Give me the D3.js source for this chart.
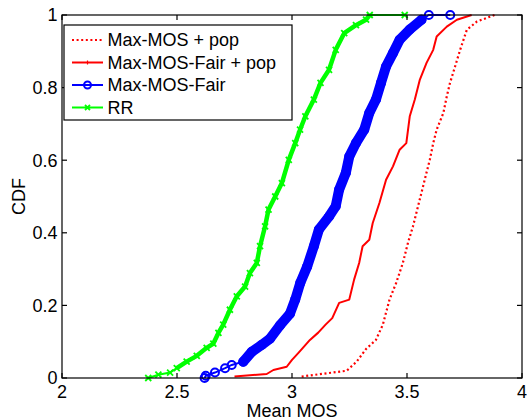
<!DOCTYPE html>
<html>
<head>
<meta charset="utf-8">
<script src="https://cdn.jsdelivr.net/npm/d3@7"></script>
<style>
  html, body { margin: 0; padding: 0; background: #fff; }
  svg { display: block; font-family: "Liberation Sans", Arial, Helvetica, sans-serif; }
</style>
</head>
<body>
<svg id="chart" width="527" height="420"></svg>
<script>
// Empirical CDF samples: [mean MOS, cumulative fraction]
const maxMosPop = [
  [3.042,0.004],[3.151,0.013],[3.238,0.02],[3.281,0.045],[3.322,0.08],[3.365,0.105],
  [3.395,0.147],[3.424,0.216],[3.453,0.262],[3.482,0.317],[3.504,0.372],[3.526,0.418],
  [3.548,0.473],[3.577,0.546],[3.599,0.601],[3.614,0.647],[3.629,0.684],[3.658,0.73],
  [3.673,0.776],[3.687,0.813],[3.709,0.858],[3.731,0.904],[3.76,0.959],[3.804,0.982],
  [3.881,1.0]
];
const maxMosFairPop = [
  [2.75,0.004],[2.89,0.011],[2.919,0.022],[2.977,0.031],[3.0,0.05],[3.029,0.07],
  [3.078,0.105],[3.114,0.125],[3.146,0.147],[3.175,0.165],[3.205,0.207],[3.249,0.216],
  [3.27,0.271],[3.292,0.317],[3.307,0.363],[3.336,0.381],[3.351,0.427],[3.38,0.482],
  [3.409,0.546],[3.439,0.583],[3.468,0.629],[3.497,0.647],[3.512,0.721],[3.534,0.767],
  [3.556,0.822],[3.585,0.868],[3.614,0.904],[3.629,0.941],[3.673,0.968],[3.717,0.987],
  [3.781,1.0]
];
const maxMosFair = [
  [2.62,0],[2.625,0.006],[2.665,0.015],[2.709,0.027],[2.738,0.036],[2.788,0.045],
  [2.825,0.072],[2.868,0.091],[2.904,0.108],[2.948,0.145],[2.991,0.177],[3.014,0.216],
  [3.036,0.262],[3.066,0.307],[3.095,0.363],[3.117,0.409],[3.161,0.445],[3.19,0.473],
  [3.205,0.519],[3.234,0.565],[3.249,0.61],[3.278,0.647],[3.314,0.684],[3.336,0.73],
  [3.365,0.767],[3.387,0.813],[3.409,0.858],[3.439,0.895],[3.468,0.932],[3.512,0.96],
  [3.563,0.987],[3.595,1.0],[3.688,1.0]
];
const rr = [
  [2.375,0],[2.419,0.009],[2.47,0.015],[2.499,0.027],[2.542,0.045],[2.586,0.061],
  [2.629,0.083],[2.658,0.095],[2.68,0.124],[2.701,0.147],[2.73,0.188],[2.76,0.225],
  [2.796,0.252],[2.817,0.289],[2.847,0.317],[2.861,0.363],[2.883,0.418],[2.898,0.464],
  [2.927,0.5],[2.956,0.537],[2.986,0.601],[3.014,0.647],[3.035,0.684],[3.058,0.721],
  [3.095,0.767],[3.124,0.813],[3.161,0.849],[3.19,0.904],[3.227,0.95],[3.278,0.972],
  [3.322,0.987],[3.338,1.0],[3.49,1.0]
];

const legendLabels = ["Max-MOS + pop", "Max-MOS-Fair + pop", "Max-MOS-Fair", "RR"];
const xTicks = [2, 2.5, 3, 3.5, 4];
const yTicks = [0, 0.2, 0.4, 0.6, 0.8, 1];
const xLabel = "Mean MOS";
const yLabel = "CDF";

const RED = "#ff0000", BLUE = "#0000ff", GREEN = "#00ff00";

const svg = d3.select("#chart");
const L = 62, R = 522, T = 15, B = 378;

const x = d3.scaleLinear().domain([2, 4]).range([L, R]);
const y = d3.scaleLinear().domain([0, 1]).range([B, T]);

const fmt = d => (d === 0 || d === 1 || d === 2 || d === 3 || d === 4) ? String(d) : String(d);

// clip region for the data
svg.append("clipPath").attr("id", "plotclip")
  .append("rect").attr("x", L).attr("y", T - 6).attr("width", R - L + 6).attr("height", B - T + 12);

const plot = svg.append("g").attr("clip-path", "url(#plotclip)");
const line = d3.line().x(d => x(d[0])).y(d => y(d[1]));

// Max-MOS + pop : dotted red
plot.append("path").datum(maxMosPop)
  .attr("d", line).attr("fill", "none").attr("stroke", RED)
  .attr("stroke-width", 2.2).attr("stroke-dasharray", "2,2.6");

// Max-MOS-Fair + pop : solid red
plot.append("path").datum(maxMosFairPop)
  .attr("d", line).attr("fill", "none").attr("stroke", RED)
  .attr("stroke-width", 2).attr("stroke-linejoin", "round");

// Max-MOS-Fair : blue with circle markers (dense markers form a thick trail)
plot.append("path").datum(maxMosFair)
  .attr("d", line).attr("fill", "none").attr("stroke", BLUE).attr("stroke-width", 2);
plot.append("path").datum(maxMosFair.filter(d => d[1] >= 0.04 && d[1] < 0.99))
  .attr("d", line).attr("fill", "none").attr("stroke", BLUE)
  .attr("stroke-width", 10).attr("stroke-linejoin", "round").attr("stroke-linecap", "round");
plot.append("g").selectAll("circle").data(maxMosFair).join("circle")
  .attr("cx", d => x(d[0])).attr("cy", d => y(d[1])).attr("r", 4)
  .attr("fill", "none").attr("stroke", BLUE).attr("stroke-width", 2);

// RR : green with x markers
plot.append("path").datum(rr)
  .attr("d", line).attr("fill", "none").attr("stroke", GREEN).attr("stroke-width", 2);
plot.append("path").datum(rr.filter(d => d[1] >= 0.02 && d[0] < 3.4))
  .attr("d", line).attr("fill", "none").attr("stroke", GREEN)
  .attr("stroke-width", 4.5).attr("stroke-linejoin", "round");
const xMark = s => `M${-s},${-s}L${s},${s}M${-s},${s}L${s},${-s}`;
plot.append("g").selectAll("path").data(rr).join("path")
  .attr("transform", d => `translate(${x(d[0])},${y(d[1])})`)
  .attr("d", xMark(3)).attr("stroke", GREEN).attr("stroke-width", 1.8).attr("fill", "none");

// axes box with inward ticks on all sides
const axisG = svg.append("g").attr("stroke", "#000").attr("stroke-width", 1.2).attr("fill", "none");
axisG.append("rect").attr("x", L).attr("y", T).attr("width", R - L).attr("height", B - T);
const tl = 5;
xTicks.forEach(t => {
  axisG.append("line").attr("x1", x(t)).attr("x2", x(t)).attr("y1", B).attr("y2", B - tl);
  axisG.append("line").attr("x1", x(t)).attr("x2", x(t)).attr("y1", T).attr("y2", T + tl);
});
yTicks.forEach(t => {
  axisG.append("line").attr("x1", L).attr("x2", L + tl).attr("y1", y(t)).attr("y2", y(t));
  axisG.append("line").attr("x1", R).attr("x2", R - tl).attr("y1", y(t)).attr("y2", y(t));
});

const fs = 18;
svg.append("g").selectAll("text").data(xTicks).join("text")
  .attr("x", d => x(d)).attr("y", 398).attr("text-anchor", "middle")
  .attr("font-size", fs).attr("fill", "#000").text(d => fmt(d));
svg.append("g").selectAll("text").data(yTicks).join("text")
  .attr("x", 57.5).attr("y", d => y(d)).attr("dy", "0.35em").attr("text-anchor", "end")
  .attr("font-size", fs).attr("fill", "#000").text(d => fmt(d));

svg.append("text").attr("x", (L + R) / 2).attr("y", 417).attr("text-anchor", "middle")
  .attr("font-size", fs).attr("fill", "#000").text(xLabel);
svg.append("text").attr("transform", `translate(25,${(T + B) / 2}) rotate(-90)`)
  .attr("text-anchor", "middle").attr("font-size", fs).attr("fill", "#000").text(yLabel);

// legend
const lg = svg.append("g");
lg.append("rect").attr("x", 64).attr("y", 25).attr("width", 228).attr("height", 95)
  .attr("fill", "#fff").attr("stroke", "#000").attr("stroke-width", 1.2);
const rowY = [40, 62.5, 85, 107.5];
const styles = [
  { color: RED, width: 2.2, dash: "2,2.6", marker: null },
  { color: RED, width: 2, dash: null, marker: "dot" },
  { color: BLUE, width: 2, dash: null, marker: "circle" },
  { color: GREEN, width: 2, dash: null, marker: "x" }
];
legendLabels.forEach((lab, i) => {
  const s = styles[i], yy = rowY[i];
  lg.append("line").attr("x1", 72).attr("x2", 103).attr("y1", yy).attr("y2", yy)
    .attr("stroke", s.color).attr("stroke-width", s.width)
    .attr("stroke-dasharray", s.dash);
  if (s.marker === "circle") {
    lg.append("circle").attr("cx", 87.5).attr("cy", yy).attr("r", 3.5)
      .attr("fill", "none").attr("stroke", s.color).attr("stroke-width", 2);
  } else if (s.marker === "x") {
    lg.append("path").attr("transform", `translate(87.5,${yy})`).attr("d", xMark(2.5))
      .attr("stroke", s.color).attr("stroke-width", 1.8);
  } else if (s.marker === "dot") {
    lg.append("line").attr("x1", 87.5).attr("x2", 87.5).attr("y1", yy - 2).attr("y2", yy + 2)
      .attr("stroke", s.color).attr("stroke-width", 1.2);
  }
  lg.append("text").attr("x", 107.5).attr("y", yy).attr("dy", "0.35em")
    .attr("font-size", fs).attr("fill", "#000").text(lab);
});
</script>
</body>
</html>
